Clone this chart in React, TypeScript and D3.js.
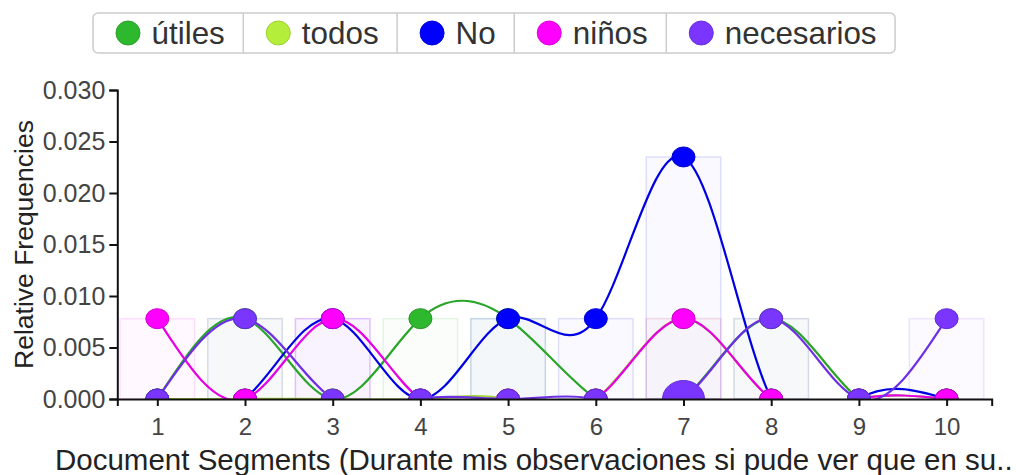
import React, { useEffect, useRef } from "react";
import * as d3 from "d3";

const segments = [1, 2, 3, 4, 5, 6, 7, 8, 9, 10];
const seriesNames = ["útiles", "todos", "No", "niños", "necesarios"];
const seriesColors = ["#2eb82e", "#b4ee3b", "#0000ff", "#ff00ff", "#7a35ff"];
const utiles = [0, 0.0078, 0, 0.0078, 0.0078, 0, 0, 0.0078, 0, 0];
const todos = [0, 0, 0, 0, 0, 0, 0.0078, 0, 0, 0];
const no = [0, 0, 0.0078, 0, 0.0078, 0.0078, 0.0235, 0, 0, 0];
const ninos = [0.0078, 0, 0.0078, 0, 0, 0, 0.0078, 0, 0, 0];
const necesarios = [0, 0.0078, 0, 0, 0, 0, 0, 0.0078, 0, 0.0078];
const seriesValues = [utiles, todos, no, ninos, necesarios];
const yTicks = [0, 0.005, 0.01, 0.015, 0.02, 0.025, 0.03];
const highlighted = { series: "necesarios", segment: 7 };
const xTitle = "Document Segments (Durante mis observaciones si pude ver que en su..";
const yTitle = "Relative Frequencies";

const FONT = "'Liberation Sans', Arial, Helvetica, sans-serif";

export default function App() {
  const ref = useRef<SVGSVGElement | null>(null);

  useEffect(() => {
    const svg = d3.select(ref.current);
    svg.selectAll("*").remove();

    const left = 117.3, right = 991.7, top = 90, bottom = 399;
    const step = 87.7;
    const firstX = 157.3;
    const x = d3
      .scaleLinear()
      .domain([1 - (firstX - left) / step, 10 + (right - (firstX + 9 * step)) / step])
      .range([left, right]);
    const y = d3.scaleLinear().domain([0, 0.03]).range([bottom, top]);

    const defs = svg.append("defs");
    defs
      .append("clipPath")
      .attr("id", "plotClip")
      .append("rect")
      .attr("x", left)
      .attr("y", top - 20)
      .attr("width", right - left)
      .attr("height", bottom - top + 20);

    const plot = svg.append("g").attr("clip-path", "url(#plotClip)");
    const bw = step * 0.85;

    // bars
    seriesValues.forEach((vals, si) => {
      const c = seriesColors[si];
      plot
        .append("g")
        .selectAll("rect")
        .data(vals.map((v, i) => ({ v, s: segments[i] })).filter((d) => d.v > 0))
        .join("rect")
        .attr("x", (d) => x(d.s) - bw / 2)
        .attr("y", (d) => y(d.v))
        .attr("width", bw)
        .attr("height", (d) => y(0) - y(d.v))
        .attr("fill", c)
        .attr("fill-opacity", 0.022)
        .attr("stroke", c)
        .attr("stroke-opacity", 0.12)
        .attr("stroke-width", 1.5);
    });

    const line = d3
      .line<number>()
      .x((_, i) => x(segments[i]))
      .y((d) => y(d))
      .curve(d3.curveNatural);

    seriesValues.forEach((vals, si) => {
      const c = seriesColors[si];
      plot
        .append("path")
        .attr("d", line(vals))
        .attr("fill", "none")
        .attr("stroke", d3.color(c)!.darker(0.3).formatHex())
        .attr("stroke-width", 2.2);
    });

    seriesValues.forEach((vals, si) => {
      const c = seriesColors[si];
      const dark = d3.color(c)!.darker(0.6).formatHex();
      plot
        .append("g")
        .selectAll("ellipse")
        .data(vals.map((v, i) => ({ v, s: segments[i] })))
        .join("ellipse")
        .attr("cx", (d) => x(d.s))
        .attr("cy", (d) => y(d.v))
        .attr("rx", (d) =>
          seriesNames[si] === highlighted.series && d.s === highlighted.segment ? 21 : 11.5
        )
        .attr("ry", (d) =>
          seriesNames[si] === highlighted.series && d.s === highlighted.segment ? 18.5 : 10
        )
        .attr("fill", c)
        .attr("stroke", dark)
        .attr("stroke-width", 1);
    });

    // axes
    const xAxis = d3
      .axisBottom(x)
      .tickValues(segments)
      .tickFormat(d3.format("d"))
      .tickSizeOuter(0)
      .tickSize(7)
      .tickPadding(12);
    const gx = svg.append("g").attr("transform", `translate(0,${bottom})`).call(xAxis);
    gx.select(".domain").attr("stroke", "#111").attr("stroke-width", 2);
    gx.selectAll(".tick line").attr("stroke", "#111").attr("stroke-width", 2);
    gx.selectAll(".tick text")
      .attr("font-family", FONT)
      .attr("font-size", 24)
      .attr("fill", "#444");

    const yAxis = d3
      .axisLeft(y)
      .tickValues(yTicks)
      .tickFormat(d3.format(".3f"))
      .tickSizeOuter(8)
      .tickSize(8)
      .tickPadding(4);
    const gy = svg.append("g").attr("transform", `translate(${left},0)`).call(yAxis);
    gy.select(".domain").attr("stroke", "#111").attr("stroke-width", 2);
    gy.selectAll(".tick line").attr("stroke", "#111").attr("stroke-width", 2);
    gy.selectAll(".tick text")
      .attr("font-family", FONT)
      .attr("font-size", 25)
      .attr("fill", "#444");

    // titles
    svg
      .append("text")
      .attr("x", 55)
      .attr("y", 470)
      .attr("font-family", FONT)
      .attr("font-size", 29.5)
      .attr("fill", "#222")
      .text(xTitle);

    svg
      .append("text")
      .attr("transform", `translate(33,${(top + bottom) / 2}) rotate(-90)`)
      .attr("text-anchor", "middle")
      .attr("font-family", FONT)
      .attr("font-size", 26.5)
      .attr("fill", "#222")
      .text(yTitle);

    // legend
    const legTop = 13, legH = 40, legLeft = 93;
    const legendG = svg.append("g");
    const widths: number[] = [];
    const items = legendG
      .selectAll("g")
      .data(seriesNames)
      .join("g");
    items
      .append("text")
      .attr("font-family", FONT)
      .attr("font-size", 31.4)
      .attr("fill", "#333")
      .attr("y", legTop + legH / 2 + 11)
      .text((d) => d)
      .each(function () {
        widths.push((this as SVGTextElement).getComputedTextLength());
      });
    let cx = legLeft;
    const cellX: number[] = [];
    widths.forEach((w) => {
      cellX.push(cx);
      cx += 35 + 23.5 + w + 18.5;
    });
    const legRight = cx;
    legendG
      .insert("rect", ":first-child")
      .attr("x", legLeft)
      .attr("y", legTop)
      .attr("width", legRight - legLeft)
      .attr("height", legH)
      .attr("rx", 5)
      .attr("fill", "#fff")
      .attr("stroke", "#ccc")
      .attr("stroke-width", 1.5);
    items.select("text").attr("x", (_, i) => cellX[i] + 35 + 23.5);
    items
      .append("circle")
      .attr("cx", (_, i) => cellX[i] + 35)
      .attr("cy", legTop + legH / 2)
      .attr("r", 12)
      .attr("fill", (_, i) => seriesColors[i])
      .attr("stroke", (_, i) => d3.color(seriesColors[i])!.darker(0.4).formatHex())
      .attr("stroke-width", 1);
    legendG
      .selectAll("line.sep")
      .data(cellX.slice(1))
      .join("line")
      .attr("class", "sep")
      .attr("x1", (d) => d)
      .attr("x2", (d) => d)
      .attr("y1", legTop)
      .attr("y2", legTop + legH)
      .attr("stroke", "#ccc")
      .attr("stroke-width", 1.5);
  }, []);

  return (
    <svg
      ref={ref}
      width={1016}
      height={475}
      style={{ position: "absolute", left: 0, top: 0, background: "#fff" }}
    />
  );
}
